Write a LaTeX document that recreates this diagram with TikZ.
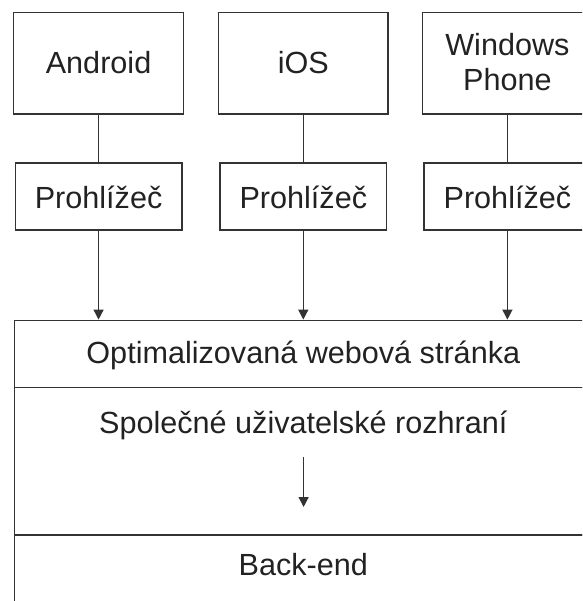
\documentclass[tikz,border=0pt]{standalone}
\usepackage{fontspec}
\setmainfont{Liberation Sans}
\usetikzlibrary{arrows.meta}
\definecolor{ink}{HTML}{222222}
\definecolor{edge}{HTML}{333333}
\tikzset{
  box/.style={draw=edge, line width=1.4pt, rectangle, inner sep=0pt},
  txt/.style={text=ink, font=\fontsize{30.6}{35}\selectfont, inner sep=0pt, anchor=base},
  conn/.style={draw=edge, line width=1.4pt},
  arr/.style={conn, -{Triangle[width=10pt,length=10pt]}}
}
\begin{document}
\begin{tikzpicture}[x=1pt,y=-1pt]
\useasboundingbox (0,0) rectangle (582,601);
\clip (0,0) rectangle (582,601);
% OS boxes
\node[box, minimum width=169.7pt, minimum height=101.7pt] (a1) at (98.55,63.15) {};
\node[box, minimum width=169.7pt, minimum height=101.7pt] (a2) at (303.3,63.15) {};
\node[box, minimum width=169.7pt, minimum height=101.7pt] (a3) at (507.4,63.15) {};
\node[txt] (t1) at (98.55,74) {Android};
\node[txt] (t2) at (303.3,74) {iOS};
\node[txt] (t3) at (507.4,56) {Windows};
\node[txt] (t3b) at (507.4,91) {Phone};
% browser boxes
\node[box, minimum width=166.7pt, minimum height=67pt] (b1) at (98.55,196.5) {};
\node[box, minimum width=166.7pt, minimum height=67pt] (b2) at (303.3,196.5) {};
\node[box, minimum width=166.7pt, minimum height=67pt] (b3) at (507.4,196.5) {};
\node[txt] (p1) at (98.55,209) {Prohlížeč};
\node[txt] (p2) at (303.3,209) {Prohlížeč};
\node[txt] (p3) at (507.4,209) {Prohlížeč};
% big stack
\node[box, minimum width=578pt, minimum height=67pt] (web) at (303.3,353.8) {};
\node[box, minimum width=578pt, minimum height=147.7pt] (ui) at (303.3,461.15) {};
\node[box, minimum width=578pt, minimum height=75pt] (back) at (303.3,572.5) {};
\node[txt] (w) at (303.3,363.3) {Optimalizovaná webová stránka};
\node[txt] (u) at (303.3,433.3) {Společné uživatelské rozhraní};
\node[txt] (be) at (303.3,575.3) {Back-end};
% connectors
\foreach \i in {1,2,3}{
  \draw[conn] (a\i.south) -- (b\i.north);
  \draw[arr] (b\i.south) -- (b\i.south |- web.north);
}
\coordinate (ua) at (303.6,457);
\coordinate (ub) at (303.6,507);
\draw[arr] (ua) -- (ub);
\end{tikzpicture}
\end{document}
